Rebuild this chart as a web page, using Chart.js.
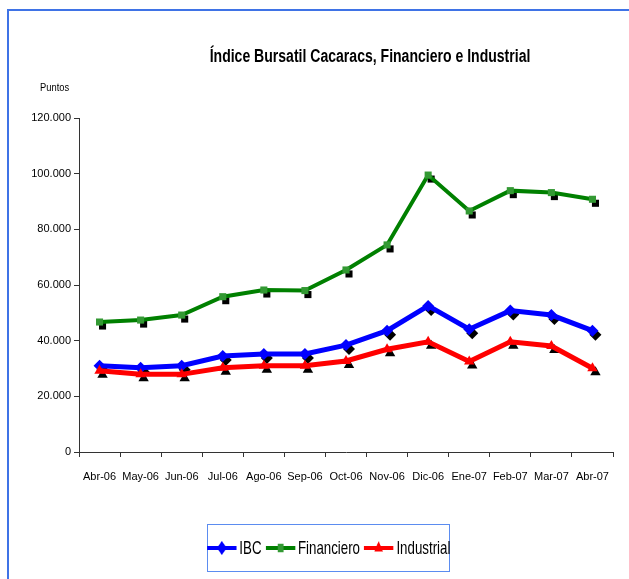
<!DOCTYPE html>
<html>
<head>
<meta charset="utf-8">
<script src="https://cdn.jsdelivr.net/npm/chart.js@4/dist/chart.umd.min.js"></script>
<style>
  html, body { margin: 0; padding: 0; background: #fff; }
  body { width: 629px; height: 579px; position: relative; overflow: hidden;
         font-family: 'Liberation Sans', Arial, sans-serif; }
  #frame { position: absolute; left: 7px; top: 9px; right: -5px; bottom: -5px;
           border-top: 2px solid #3f73e6; border-left: 2px solid #3f73e6; }
  #wrap { position: absolute; left: 0; top: 0; width: 629px; height: 579px; }
  #title { position: absolute; left: 120px; width: 500px; top: 46px; text-align: center;
           font-weight: bold; font-size: 18px; color: #000; white-space: nowrap;
           transform: scaleX(0.78); }
  #yTitle { position: absolute; left: 40px; top: 81px; font-size: 11px; color: #000;
            transform: scaleX(0.85); transform-origin: left center; }
  #legend { position: absolute; left: 207px; top: 524px; width: 241px; height: 46px;
            border: 1px solid #5b8cf0; display: flex; align-items: center; justify-content: center; }
  #legendInner { display: flex; align-items: center; white-space: nowrap;
                 font-size: 19px; color: #000; transform: scaleX(0.7); }
  .item { display: flex; align-items: center; margin: 0 3px; }
  .item canvas { margin-right: 4px; }
</style>
</head>
<body>
<div id="frame"></div>
<div id="wrap"><canvas id="chart" width="629" height="579"></canvas></div>
<div id="title">Índice Bursatil Cacaracs, Financiero e Industrial</div>
<div id="yTitle">Puntos</div>
<div id="legend"><div id="legendInner"></div></div>
<script>
// Datos
const months = ['Abr-06', 'May-06', 'Jun-06', 'Jul-06', 'Ago-06', 'Sep-06', 'Oct-06',
                'Nov-06', 'Dic-06', 'Ene-07', 'Feb-07', 'Mar-07', 'Abr-07'];
const ibc        = [31000, 30300, 31000, 34500, 35200, 35200, 38400, 43600, 52500, 44100, 50800, 49200, 43600];
const financiero = [46700, 47400, 49200, 55800, 58200, 58000, 65400, 74400, 99500, 86600, 93900, 93200, 90800];
const industrial = [29200, 27900, 27900, 30300, 31000, 31000, 32700, 36900, 39600, 32500, 39600, 38100, 30100];
const yTicks = [0, 20000, 40000, 60000, 80000, 100000, 120000];

const FONT = "'Liberation Sans', Arial, sans-serif";

const series = [
    { label: 'IBC', data: ibc, line: '#0000ff', marker: '#0000ff', style: 'rectRot', radius: 6, width: 5, order: 3 },
    { label: 'Financiero', data: financiero, line: '#008000', marker: '#339933', style: 'rect', radius: 5, width: 4, order: 2 },
    { label: 'Industrial', data: industrial, line: '#ff0000', marker: '#ff0000', style: 'triangle', radius: 6, width: 5, order: 1 }
];

function fmt(v) {
    return String(v).replace(/\B(?=(\d{3})+(?!\d))/g, '.');
}

// Sombra negra de los marcadores (como en Excel)
const markerShadow = {
    id: 'markerShadow',
    beforeDatasetsDraw(chart) {
        const ctx = chart.ctx;
        ctx.save();
        ctx.fillStyle = '#000';
        chart.data.datasets.forEach((ds, i) => {
            const meta = chart.getDatasetMeta(i);
            meta.data.forEach(pt => {
                Chart.helpers.drawPoint(ctx, { pointStyle: ds.pointStyle, radius: ds.pointRadius, borderWidth: 0, rotation: 0 }, pt.x + 3, pt.y + 4);
            });
        });
        ctx.restore();
    }
};

const ctx = document.getElementById('chart').getContext('2d');
new Chart(ctx, {
    type: 'line',
    data: {
        labels: months,
        datasets: series.map(s => ({
            label: s.label,
            data: s.data,
            borderColor: s.line,
            backgroundColor: s.marker,
            pointBackgroundColor: s.marker,
            pointBorderColor: s.marker,
            pointBorderWidth: 0,
            pointStyle: s.style,
            pointRadius: s.radius,
            borderWidth: s.width,
            tension: 0,
            order: s.order
        }))
    },
    options: {
        responsive: false,
        animation: false,
        devicePixelRatio: 1,
        layout: { padding: { top: 118, left: 0, right: 16, bottom: 79 } },
        plugins: { legend: { display: false }, tooltip: { enabled: false } },
        scales: {
            x: {
                offset: true,
                grid: { offset: true, drawOnChartArea: false, tickLength: 5, tickColor: '#333' },
                border: { color: '#333', width: 1 },
                ticks: { color: '#000', font: { family: FONT, size: 11 }, padding: 13, maxRotation: 0, autoSkip: false },
                afterFit: s => { s.height = 48; }
            },
            y: {
                min: 0, max: 120000,
                afterBuildTicks: s => { s.ticks = yTicks.map(v => ({ value: v })); },
                grid: { drawOnChartArea: false, tickLength: 5, tickColor: '#333' },
                border: { color: '#333', width: 1 },
                ticks: { color: '#000', font: { family: FONT, size: 11 }, padding: 3, callback: v => fmt(v) },
                afterFit: s => { s.width = 79; }
            }
        }
    },
    plugins: [markerShadow]
});

// Leyenda con línea + marcador
const legend = document.getElementById('legendInner');
series.forEach(s => {
    const item = document.createElement('div');
    item.className = 'item';
    const c = document.createElement('canvas');
    c.width = 42; c.height = 18;
    const g = c.getContext('2d');
    g.strokeStyle = s.line; g.lineWidth = 4;
    g.beginPath(); g.moveTo(0, 9); g.lineTo(42, 9); g.stroke();
    g.fillStyle = s.marker;
    Chart.helpers.drawPoint(g, { pointStyle: s.style, radius: s.radius + 1, borderWidth: 0, rotation: 0 }, 21, 9);
    const t = document.createElement('span');
    t.textContent = s.label;
    item.appendChild(c);
    item.appendChild(t);
    legend.appendChild(item);
});
</script>
</body>
</html>
